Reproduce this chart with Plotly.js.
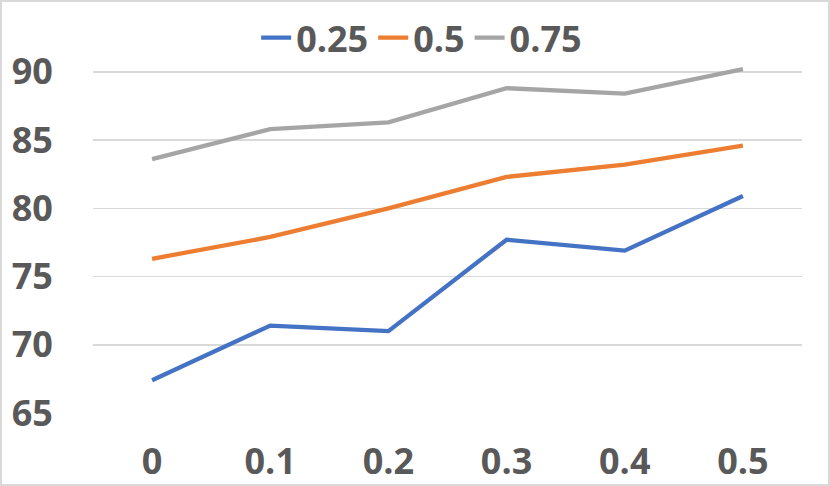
<!DOCTYPE html>
<html>
<head>
<meta charset="utf-8">
<script src="https://cdn.plot.ly/plotly-3.0.1.min.js"></script>
<style>
  html, body { margin: 0; padding: 0; background: #ffffff; }
  #wrap { position: relative; width: 830px; height: 486px; }
  #wrap:after {
    content: ""; position: absolute; left: 0; top: 0; right: 0; bottom: 0;
    border: 2px solid #d9d9d9; pointer-events: none;
  }
  #chart { width: 830px; height: 486px; }
</style>
</head>
<body>
<div id="wrap"><div id="chart"></div></div>
<script>
// categories on the x axis
var categories = ["0", "0.1", "0.2", "0.3", "0.4", "0.5"];

// series
var seriesNames = ["0.25", "0.5", "0.75"];
var values025 = [67.4, 71.4, 71.0, 77.7, 76.9, 80.9];
var values05 = [76.3, 77.9, 80.0, 82.3, 83.2, 84.6];
var values075 = [83.6, 85.8, 86.3, 88.8, 88.4, 90.2];

var yTicks = [65, 70, 75, 80, 85, 90];

var seriesColors = ["#4472c4", "#ed7d31", "#a5a5a5"];
var allValues = [values025, values05, values075];

var labelFont = { family: "Open Sans, DejaVu Sans, sans-serif", size: 36, color: "#595959", weight: 700 };

var traces = allValues.map(function(vals, i) {
  return {
    type: "scatter",
    mode: "lines",
    name: seriesNames[i],
    x: categories,
    y: vals,
    line: { color: seriesColors[i], width: 4.3 },
    hoverinfo: "skip"
  };
});

var layout = {
  width: 830,
  height: 486,
  margin: { l: 93, r: 28, t: 65, b: 73, autoexpand: false },
  paper_bgcolor: "#ffffff",
  plot_bgcolor: "#ffffff",
  font: labelFont,
  showlegend: true,
  legend: {
    orientation: "h",
    x: 0.508,
    xanchor: "center",
    xref: "container",
    y: 0.984,
    yref: "container",
    yanchor: "top",
    font: labelFont,
    itemwidth: 30,
    tracegroupgap: 0,
    bgcolor: "rgba(0,0,0,0)"
  },
  xaxis: {
    type: "category",
    range: [-0.5, 5.5],
    showgrid: false,
    zeroline: false,
    showline: false,
    ticks: "outside",
    ticklen: 17,
    tickcolor: "rgba(0,0,0,0)",
    tickfont: labelFont,
    fixedrange: true
  },
  yaxis: {
    range: [65, 90.5],
    tickvals: yTicks,
    ticktext: yTicks.map(String),
    showgrid: true,
    gridcolor: "#d9d9d9",
    gridwidth: 1.5,
    zeroline: false,
    showline: false,
    ticks: "outside",
    ticklen: 32,
    tickcolor: "rgba(0,0,0,0)",
    tickfont: labelFont,
    fixedrange: true
  }
};

Plotly.newPlot("chart", traces, layout, { displayModeBar: false, staticPlot: true });
</script>
</body>
</html>
